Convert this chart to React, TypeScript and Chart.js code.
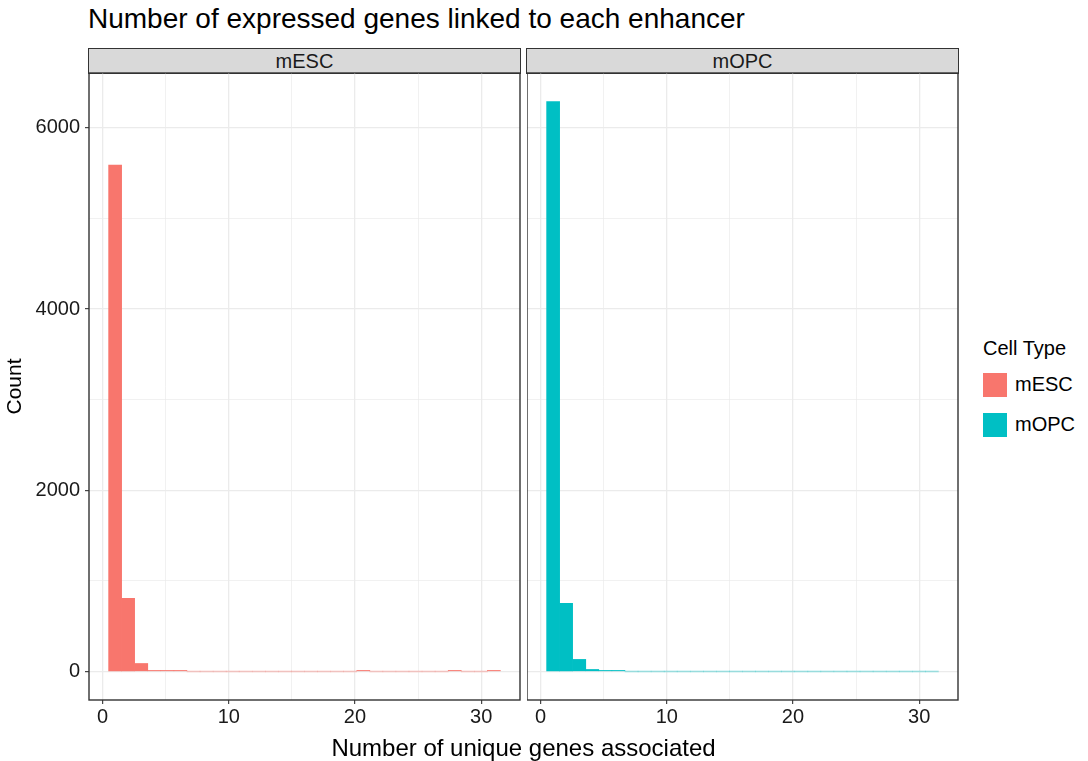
import React, { useEffect, useRef } from "react";
import { Chart, registerables } from "chart.js";

Chart.register(...registerables);

// Histogram bin centres (ggplot default 30 bins over 1..31)
const binCenters = [
  1.0, 2.03, 3.07, 4.1, 5.14, 6.17, 7.21, 8.24, 9.28, 10.31, 11.34, 12.38, 13.41, 14.45, 15.48,
  16.52, 17.55, 18.59, 19.62, 20.66, 21.69, 22.72, 23.76, 24.79, 25.83, 26.86, 27.9, 28.93, 29.97, 31.0,
];
const mESCCounts = [
  5590, 807, 88, 11, 3, 2, 0, 0, 0, 0, 0, 0, 0, 0, 0, 0, 0, 0, 0, 1, 0, 0, 0, 0, 0, 0, 1, 0, 0, 1,
];
const mOPCCounts = [
  6290, 751, 133, 22, 3, 2, 0, 0, 0, 0, 0, 0, 0, 0, 0, 0, 0, 0, 0, 0, 0, 0, 0, 0, 0, 0, 0, 0, 0, 0,
];
const xTicks = [0, 5, 10, 15, 20, 25, 30];
const xLabelTicks = [0, 10, 20, 30];
const yTicks = [0, 1000, 2000, 3000, 4000, 5000, 6000];
const yLabelTicks = [0, 2000, 4000, 6000];
const facets = ["mESC", "mOPC"];
const colors = ["#F8766D", "#00BFC4"];
const fadedColors = ["rgba(248,118,109,0.35)", "rgba(0,191,196,0.35)"];

const X_MIN = -1.07;
const X_MAX = 33.07;
const Y_MIN = -315;
const Y_MAX = 6605;

const FONT = "'Liberation Sans', Arial, Helvetica, sans-serif";
const TEXT = "#1A1A1A";

const framePlugin = {
  id: "frame",
  afterDraw(chart: any) {
    const { ctx, chartArea } = chart;
    ctx.save();
    ctx.strokeStyle = "#333333";
    ctx.lineWidth = 1.4;
    ctx.strokeRect(chartArea.left, chartArea.top, chartArea.right - chartArea.left, chartArea.bottom - chartArea.top);
    ctx.restore();
  },
};

function makeConfig(idx: number, showY: boolean, padTop: number): any {
  const counts = idx === 0 ? mESCCounts : mOPCCounts;
  return {
    type: "bar",
    data: {
      datasets: [
        {
          label: facets[idx],
          data: binCenters.map((x, i) => ({ x, y: counts[i] })),
          backgroundColor: (c: any) => (c.raw && c.raw.y === 0 ? fadedColors[idx] : colors[idx]),
          borderWidth: 0,
          barPercentage: 1,
          categoryPercentage: 1,
          minBarLength: 1,
        },
      ],
    },
    options: {
      responsive: false,
      animation: false,
      layout: { padding: { top: padTop, right: 2, bottom: 0, left: 0 } },
      plugins: { legend: { display: false }, tooltip: { enabled: false }, title: { display: false } },
      scales: {
        x: {
          type: "linear",
          offset: false,
          min: X_MIN,
          max: X_MAX,
          afterBuildTicks: (s: any) => {
            s.ticks = xTicks.map((v) => ({ value: v }));
          },
          afterFit: (s: any) => {
            s.height = 61;
          },
          grid: {
            offset: false,
            color: "#EBEBEB",
            lineWidth: (c: any) => (c.tick && xLabelTicks.includes(c.tick.value) ? 1.3 : 0.7),
            tickColor: (c: any) => (c.tick && xLabelTicks.includes(c.tick.value) ? "#333333" : "rgba(0,0,0,0)"),
            tickLength: 4,
            tickWidth: 1.1,
          },
          border: { display: false },
          ticks: {
            autoSkip: false,
            maxRotation: 0,
            padding: 1,
            color: TEXT,
            font: { family: FONT, size: 20 },
            callback: (v: any) => (xLabelTicks.includes(v) ? String(v) : ""),
          },
        },
        y: {
          type: "linear",
          min: Y_MIN,
          max: Y_MAX,
          afterBuildTicks: (s: any) => {
            s.ticks = yTicks.map((v) => ({ value: v }));
          },
          afterFit: (s: any) => {
            s.width = showY ? 89 : 0;
          },
          grid: {
            color: "#EBEBEB",
            lineWidth: (c: any) => (c.tick && yLabelTicks.includes(c.tick.value) ? 1.3 : 0.7),
            tickColor: (c: any) =>
              showY && c.tick && yLabelTicks.includes(c.tick.value) ? "#333333" : "rgba(0,0,0,0)",
            tickLength: 4,
            tickWidth: 1.1,
            drawTicks: showY,
          },
          border: { display: false },
          title: {
            display: showY,
            text: "Count",
            color: "#000000",
            font: { family: FONT, size: 21 },
            padding: { top: 3, bottom: 0 },
          },
          ticks: {
            display: showY,
            padding: 5,
            color: TEXT,
            font: { family: FONT, size: 20 },
            callback: (v: any) => (yLabelTicks.includes(v) ? String(v) : ""),
          },
        },
      },
    },
    plugins: [framePlugin],
  };
}

function Panel({
  idx,
  left,
  top,
  width,
  height,
  padTop,
  showY,
}: {
  idx: number;
  left: number;
  top: number;
  width: number;
  height: number;
  padTop: number;
  showY: boolean;
}) {
  const ref = useRef<HTMLCanvasElement | null>(null);
  useEffect(() => {
    if (!ref.current) return;
    const chart = new Chart(ref.current, makeConfig(idx, showY, padTop));
    return () => chart.destroy();
  }, [idx, showY, padTop]);
  return (
    <canvas
      ref={ref}
      width={width}
      height={height}
      style={{ position: "absolute", left, top, width, height }}
    />
  );
}

const stripStyle = (left: number): React.CSSProperties => ({
  position: "absolute",
  left,
  top: 48,
  width: 431,
  height: 24,
  background: "#D9D9D9",
  border: "1.4px solid #333333",
  boxSizing: "content-box",
  display: "flex",
  alignItems: "center",
  justifyContent: "center",
  fontFamily: FONT,
  fontSize: 20,
  color: TEXT,
});

export default function App() {
  return (
    <div
      style={{
        position: "absolute",
        left: 0,
        top: 0,
        width: 1088,
        height: 761,
        background: "#FFFFFF",
        fontFamily: FONT,
        overflow: "hidden",
      }}
    >
      <div style={{ position: "absolute", left: 88, top: 3, fontSize: 28, color: "#000", whiteSpace: "nowrap" }}>
        Number of expressed genes linked to each enhancer
      </div>
      <div style={stripStyle(88)}>{facets[0]}</div>
      <div style={stripStyle(526)}>{facets[1]}</div>
      <Panel idx={0} left={0} top={56} width={522} height={705} padTop={0} showY={true} />
      <Panel idx={1} left={527} top={60} width={433} height={701} padTop={13} showY={false} />
      <div
        style={{
          position: "absolute",
          left: 89,
          width: 869,
          top: 734,
          textAlign: "center",
          fontSize: 24,
          color: "#000",
          whiteSpace: "nowrap",
        }}
      >
        Number of unique genes associated
      </div>
      <div style={{ position: "absolute", left: 983, top: 337, fontSize: 20, color: "#000", whiteSpace: "nowrap" }}>
        Cell Type
      </div>
      {facets.map((f, i) => (
        <React.Fragment key={f}>
          <div
            style={{
              position: "absolute",
              left: 983,
              top: 373 + i * 40,
              width: 24,
              height: 24,
              background: colors[i],
            }}
          />
          <div
            style={{
              position: "absolute",
              left: 1015,
              top: 373 + i * 40,
              fontSize: 20,
              color: "#000",
              whiteSpace: "nowrap",
            }}
          >
            {f}
          </div>
        </React.Fragment>
      ))}
    </div>
  );
}
